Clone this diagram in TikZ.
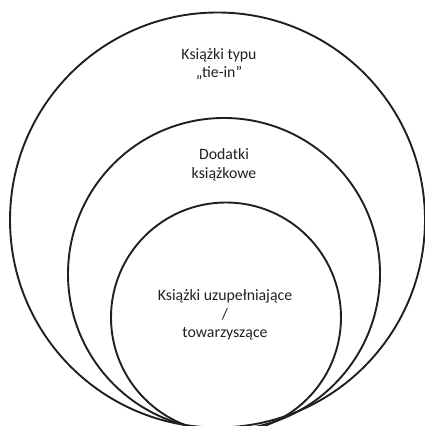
\documentclass[tikz,border=0pt]{standalone}
\usepackage{fontspec}
\setmainfont{Carlito}
\definecolor{ink}{HTML}{231F20}
\begin{document}
\begin{tikzpicture}[x=1pt,y=1pt,
    ring/.style={circle,draw=ink,line width=1.9pt,inner sep=0pt},
    label/.style={align=center,text=ink,font=\fontsize{15.8}{18.5}\selectfont}]
    \useasboundingbox (0,0) rectangle (425,426);
    \clip (0,0) rectangle (425,426);

    \node[ring,minimum size=415] (outer) at (217.5,206) {};
    \node[ring,minimum size=312] (middle) at (224,152) {};
    \node[ring,minimum size=230] (inner) at (226,108.5) {};

    \node[label] (tiein) at (219,362) {Książki typu\\„tie-in”};
    \node[label] (dodatki) at (224,261) {Dodatki\\książkowe};
    \node[label] (towarzyszace) at (225,111) {Książki uzupełniające\\/\\towarzyszące};
\end{tikzpicture}
\end{document}
